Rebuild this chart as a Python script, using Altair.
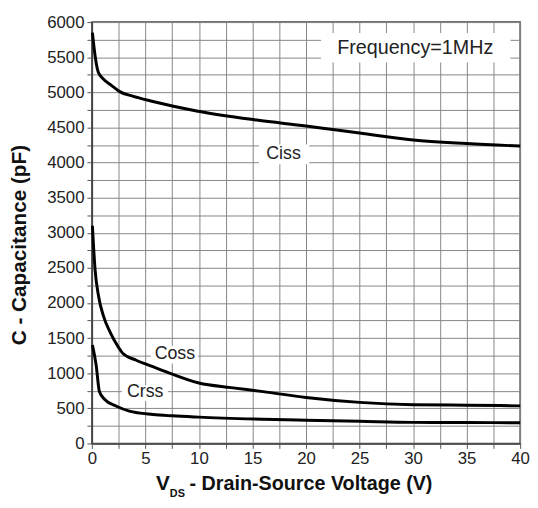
import altair as alt
import pandas as pd

# --- data ---
ciss_v = [0.05, 0.3, 0.6, 1.07, 1.85, 2.6, 3.8, 5.7, 9.9, 15.4, 20, 22.5, 25, 30, 35, 40]
ciss_c = [5850, 5520, 5285, 5190, 5096, 5010, 4945, 4870, 4731, 4605, 4520, 4470, 4420, 4320, 4270, 4235]

coss_v = [0.05, 0.3, 0.62, 1.07, 1.7, 2.46, 2.9, 4.15, 5.7, 6.9, 10, 13, 16, 20, 25, 30, 35, 40]
coss_c = [3100, 2470, 2100, 1820, 1585, 1375, 1280, 1185, 1093, 1022, 860, 795, 738, 655, 585, 552, 545, 535]

crss_v = [0.05, 0.4, 0.7, 1.23, 2.3, 3.5, 5.7, 7.5, 10, 16, 20, 25, 30, 35, 40]
crss_c = [1400, 1115, 740, 623, 530, 460, 412, 393, 375, 345, 330, 315, 300, 297, 296]

x_ticks = [0, 2.5, 5, 7.5, 10, 12.5, 15, 17.5, 20, 22.5, 25, 27.5, 30, 32.5, 35, 37.5, 40]
y_ticks = list(range(0, 6001, 250))

# annotations (label, x, y, font size) and their white backing boxes
ann_text = ["Frequency=1MHz", "Ciss", "Coss", "Crss"]
ann_v = [30.2, 17.9, 7.75, 4.98]
ann_c = [5635, 4125, 1275, 730]
ann_fs = [20, 18, 18, 18]
box_v1 = [21.4, 15.6, 5.5, 2.8]
box_v2 = [39.1, 20.3, 9.9, 7.1]
box_c1 = [5424, 3977, 1139, 605]
box_c2 = [5845, 4258, 1392, 830]

y_title = "C - Capacitance (pF)"
x_title_v = "V"
x_title_sub = "DS"
x_title_rest = "- Drain-Source Voltage (V)"

FONT = "Liberation Sans"

curves = pd.concat([
    pd.DataFrame({"v": ciss_v, "c": ciss_c, "s": "Ciss"}),
    pd.DataFrame({"v": coss_v, "c": coss_c, "s": "Coss"}),
    pd.DataFrame({"v": crss_v, "c": crss_c, "s": "Crss"}),
])
ann = pd.DataFrame({"t": ann_text, "v": ann_v, "c": ann_c, "fs": ann_fs})
boxes = pd.DataFrame({"v1": box_v1, "v2": box_v2, "c1": box_c1, "c2": box_c2})

xs = alt.Scale(domain=[0, 40], nice=False, zero=False)
ys = alt.Scale(domain=[0, 6000], nice=False)

common = dict(title=None, grid=True, gridColor="#858585", gridWidth=1,
              tickSize=5, tickColor="#555", domainColor="#444", domainWidth=1.5,
              labelFlush=False, labelFont=FONT, labelFontSize=17, labelColor="#222")
x_axis = alt.Axis(values=x_ticks, labelExpr="datum.value % 5 == 0 ? datum.label : ''",
                  labelPadding=2, **common)
y_axis = alt.Axis(values=y_ticks, format="d",
                  labelExpr="datum.value % 500 == 0 ? datum.label : ''",
                  labelPadding=3, **common)

rects = alt.Chart(boxes).mark_rect(color="white").encode(
    x=alt.X("v1:Q", scale=xs, axis=x_axis), x2="v2",
    y=alt.Y("c1:Q", scale=ys, axis=y_axis), y2="c2")

lines = alt.Chart(curves).mark_line(color="black", strokeWidth=3, interpolate="monotone").encode(
    x=alt.X("v:Q", scale=xs, axis=x_axis),
    y=alt.Y("c:Q", scale=ys, axis=y_axis),
    detail="s:N")

labels = alt.Chart(ann).mark_text(font=FONT, color="#222", align="center", baseline="middle").encode(
    x=alt.X("v:Q", scale=xs, axis=x_axis),
    y=alt.Y("c:Q", scale=ys, axis=y_axis),
    text="t:N",
    size=alt.Size("fs:Q", scale=None, legend=None))

def title_text(txt, x, y, size, **kw):
    return alt.Chart(pd.DataFrame({"t": [txt]})).mark_text(
        font=FONT, fontWeight="bold", fontSize=size, color="#111", **kw
    ).encode(text="t:N", x=alt.value(x), y=alt.value(y))

yt = title_text(y_title, -73, 226, 21, angle=270, align="center", baseline="middle")
xt1 = title_text(x_title_v, 65, 474, 21, align="left", baseline="alphabetic")
xt2 = title_text(x_title_sub, 79, 481, 11, align="left", baseline="alphabetic")
xt3 = title_text(x_title_rest, 99, 474, 20, align="left", baseline="alphabetic")

chart = alt.layer(rects, lines, labels, yt, xt1, xt2, xt3).properties(
    width=434, height=427,
    background="white",
    autosize=alt.AutoSizeParams(type="none"),
    padding={"left": 85, "top": 11, "right": 10, "bottom": 52},
).configure_view(stroke="#444", strokeWidth=1.5)

chart.save("out.html", embed_options={"renderer": "svg", "actions": False})
